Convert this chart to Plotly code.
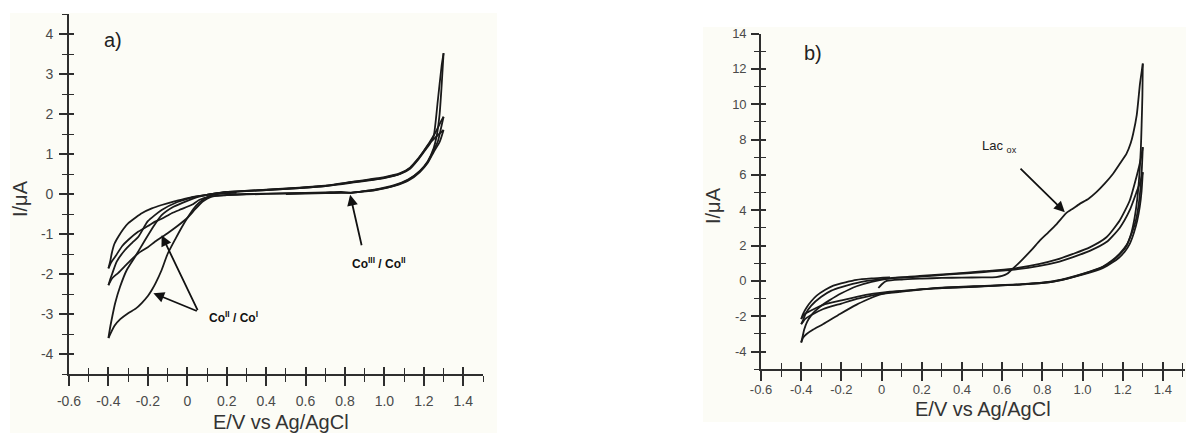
import plotly.graph_objects as go

# ---------------- panel a) : cyclic voltammogram, Co complex ----------------
# each sweep is one potential scan between the vertex potentials
a_sweep1_E = [0.25, 0.15, 0.1, 0.06, 0.03, 0.0, -0.03, -0.06, -0.1, -0.13, -0.16, -0.18, -0.2, -0.23, -0.26, -0.3, -0.34, -0.37, -0.4]
a_sweep1_I = [0.03, 0.0, -0.08, -0.22, -0.38, -0.6, -0.85, -1.12, -1.5, -1.9, -2.22, -2.4, -2.55, -2.72, -2.86, -2.98, -3.13, -3.3, -3.6]

a_sweep2_E = [-0.4, -0.39, -0.38, -0.366, -0.341, -0.307, -0.265, -0.22, -0.17, -0.13, -0.07, 0.0, 0.05, 0.1, 0.2, 0.3, 0.4, 0.57, 0.7, 0.83, 1.0, 1.08, 1.13, 1.17, 1.2, 1.23, 1.25, 1.27, 1.29, 1.3]
a_sweep2_I = [-3.6, -3.3, -3.05, -2.73, -2.32, -1.9, -1.57, -1.2, -0.8, -0.53, -0.32, -0.17, -0.08, -0.02, 0.04, 0.07, 0.1, 0.15, 0.2, 0.28, 0.4, 0.5, 0.63, 0.85, 1.05, 1.25, 1.45, 2.3, 3.2, 3.52]

a_sweep3_E = [1.3, 1.29, 1.28, 1.265, 1.25, 1.22, 1.18, 1.12, 1.05, 0.95, 0.88, 0.83, 0.78, 0.7, 0.5, 0.3, 0.2, 0.12, 0.08, 0.04, 0.0, -0.05, -0.1, -0.163, -0.2, -0.248, -0.3, -0.35, -0.38, -0.4]
a_sweep3_I = [3.52, 2.7, 2.0, 1.45, 1.15, 0.82, 0.58, 0.36, 0.22, 0.11, 0.06, 0.03, 0.05, 0.04, 0.02, 0.0, -0.02, -0.07, -0.18, -0.38, -0.6, -0.8, -0.98, -1.19, -1.33, -1.48, -1.72, -1.97, -2.1, -2.28]

a_sweep4_E = [-0.4, -0.39, -0.38, -0.358, -0.316, -0.28, -0.248, -0.2, -0.13, -0.05, 0.0, 0.05, 0.1, 0.2, 0.4, 0.57, 0.7, 0.83, 1.0, 1.08, 1.13, 1.17, 1.2, 1.23, 1.26, 1.28, 1.3]
a_sweep4_I = [-2.28, -2.12, -1.98, -1.69, -1.4, -1.22, -1.07, -0.68, -0.4, -0.2, -0.12, -0.06, -0.02, 0.05, 0.1, 0.15, 0.2, 0.29, 0.41, 0.51, 0.65, 0.87, 1.08, 1.3, 1.55, 1.75, 1.93]

a_sweep5_E = [1.3, 1.285, 1.27, 1.25, 1.22, 1.18, 1.12, 1.05, 0.95, 0.88, 0.83, 0.78, 0.7, 0.5, 0.3, 0.2, 0.12, 0.06, 0.023, -0.03, -0.079, -0.13, -0.163, -0.2, -0.248, -0.3, -0.33, -0.366, -0.385, -0.4]
a_sweep5_I = [1.93, 1.6, 1.3, 1.1, 0.8, 0.57, 0.35, 0.21, 0.1, 0.06, 0.03, 0.04, 0.03, 0.01, -0.01, -0.03, -0.06, -0.15, -0.27, -0.38, -0.48, -0.62, -0.69, -0.8, -0.94, -1.15, -1.3, -1.57, -1.7, -1.86]

a_sweep6_E = [-0.4, -0.39, -0.383, -0.37, -0.35, -0.325, -0.299, -0.26, -0.231, -0.18, -0.13, -0.07, -0.028, 0.03, 0.1, 0.2, 0.4, 0.57, 0.7, 0.83, 1.0, 1.08, 1.13, 1.17, 1.2, 1.23, 1.26, 1.3]
a_sweep6_I = [-1.86, -1.66, -1.48, -1.25, -1.07, -0.88, -0.73, -0.58, -0.48, -0.36, -0.275, -0.19, -0.14, -0.07, -0.02, 0.05, 0.11, 0.16, 0.21, 0.3, 0.42, 0.52, 0.66, 0.88, 1.07, 1.28, 1.42, 1.6]

a_sweep7_E = [1.3, 1.28, 1.25, 1.22, 1.18, 1.12, 1.05, 0.95, 0.85, 0.7, 0.5]
a_sweep7_I = [1.6, 1.3, 1.05, 0.78, 0.55, 0.33, 0.2, 0.09, 0.04, 0.02, 0.0]

# ---------------- panel b) : cyclic voltammogram with lactate ----------------
b_sweep1_E = [-0.016, 0.0, 0.025, 0.1, 0.2, 0.3, 0.4, 0.5, 0.57, 0.6, 0.625, 0.646, 0.675, 0.704, 0.75, 0.787, 0.83, 0.87, 0.92, 0.953, 0.986, 1.03, 1.069, 1.11, 1.152, 1.19, 1.219, 1.24, 1.252, 1.27, 1.286, 1.295, 1.3]
b_sweep1_I = [-0.4, -0.2, 0.0, 0.08, 0.13, 0.17, 0.19, 0.2, 0.22, 0.28, 0.4, 0.62, 0.92, 1.25, 1.8, 2.28, 2.75, 3.2, 3.85, 4.1, 4.36, 4.65, 5.02, 5.5, 6.06, 6.7, 7.2, 7.8, 8.33, 9.4, 11.16, 11.9, 12.3]

b_sweep2_E = [1.3, 1.298, 1.294, 1.29, 1.283, 1.272, 1.258, 1.24, 1.215, 1.185, 1.15, 1.1, 1.0, 0.92, 0.84, 0.7, 0.46, 0.257, 0.09, 0.0, -0.024, -0.07, -0.124, -0.207, -0.29, -0.34, -0.373, -0.39, -0.4]
b_sweep2_I = [12.3, 10.5, 8.8, 7.4, 6.0, 4.6, 3.5, 2.6, 1.9, 1.5, 1.15, 0.78, 0.38, 0.12, -0.07, -0.2, -0.33, -0.42, -0.62, -0.74, -0.83, -1.05, -1.34, -1.87, -2.44, -2.75, -3.0, -3.2, -3.48]

b_sweep3_E = [-0.4, -0.392, -0.385, -0.37, -0.35, -0.33, -0.3, -0.26, -0.2, -0.124, -0.05, 0.042, 0.19, 0.34, 0.51, 0.646, 0.787, 0.87, 0.953, 1.036, 1.119, 1.185, 1.235, 1.268, 1.29, 1.3]
b_sweep3_I = [-3.48, -3.1, -2.75, -2.3, -1.95, -1.7, -1.4, -1.1, -0.7, -0.3, -0.05, 0.15, 0.28, 0.4, 0.55, 0.68, 0.96, 1.2, 1.53, 1.9, 2.47, 3.42, 4.55, 5.87, 6.9, 7.57]

b_sweep4_E = [1.3, 1.295, 1.288, 1.278, 1.265, 1.245, 1.22, 1.185, 1.15, 1.1, 1.0, 0.92, 0.84, 0.7, 0.46, 0.3, 0.19, 0.1, 0.042, -0.04, -0.124, -0.2, -0.29, -0.356, -0.38, -0.39, -0.4]
b_sweep4_I = [7.57, 6.3, 5.2, 4.2, 3.4, 2.7, 2.05, 1.55, 1.18, 0.8, 0.4, 0.15, -0.04, -0.18, -0.3, -0.38, -0.48, -0.58, -0.64, -0.8, -1.02, -1.28, -1.59, -1.97, -2.15, -2.3, -2.44]

b_sweep5_E = [-0.4, -0.39, -0.38, -0.35, -0.3, -0.25, -0.2, -0.1, 0.04, 0.19, 0.34, 0.51, 0.646, 0.787, 0.87, 0.953, 1.036, 1.119, 1.185, 1.235, 1.268, 1.29, 1.3]
b_sweep5_I = [-2.44, -2.2, -1.9, -1.4, -0.9, -0.55, -0.35, -0.05, 0.15, 0.24, 0.37, 0.5, 0.62, 0.85, 1.05, 1.35, 1.7, 2.2, 3.0, 4.0, 5.0, 5.7, 6.15]

b_sweep6_E = [1.3, 1.294, 1.285, 1.272, 1.255, 1.235, 1.21, 1.18, 1.15, 1.1, 1.0, 0.92, 0.84, 0.7, 0.46, 0.3, 0.19, 0.1, 0.042, -0.04, -0.124, -0.2, -0.29, -0.356, -0.385, -0.4]
b_sweep6_I = [6.15, 5.1, 4.2, 3.4, 2.7, 2.1, 1.65, 1.3, 1.05, 0.72, 0.35, 0.12, -0.06, -0.2, -0.32, -0.4, -0.48, -0.56, -0.6, -0.72, -0.9, -1.1, -1.35, -1.7, -1.9, -2.15]

b_sweep7_E = [-0.4, -0.39, -0.373, -0.35, -0.323, -0.28, -0.24, -0.18, -0.124, -0.05, 0.042]
b_sweep7_I = [-2.15, -1.85, -1.5, -1.15, -0.83, -0.5, -0.27, -0.08, 0.06, 0.14, 0.2]

# ---------------- tick labels ----------------
x_tickvals = [-0.6, -0.4, -0.2, 0.0, 0.2, 0.4, 0.6, 0.8, 1.0, 1.2, 1.4]
x_ticktext = ["-0.6", "-0.4", "-0.2", "0", "0.2", "0.4", "0.6", "0.8", "1.0", "1.2", "1.4"]
a_y_tickvals = [-4, -3, -2, -1, 0, 1, 2, 3, 4]
a_y_ticktext = ["-4", "-3", "-2", "-1", "0", "1", "2", "3", "4"]
b_y_tickvals = [-4, -2, 0, 2, 4, 6, 8, 10, 12, 14]
b_y_ticktext = ["-4", "-2", "0", "2", "4", "6", "8", "10", "12", "14"]

a_sweeps = [(a_sweep1_E, a_sweep1_I), (a_sweep2_E, a_sweep2_I), (a_sweep3_E, a_sweep3_I),
            (a_sweep4_E, a_sweep4_I), (a_sweep5_E, a_sweep5_I), (a_sweep6_E, a_sweep6_I),
            (a_sweep7_E, a_sweep7_I)]
b_sweeps = [(b_sweep1_E, b_sweep1_I), (b_sweep2_E, b_sweep2_I), (b_sweep3_E, b_sweep3_I),
            (b_sweep4_E, b_sweep4_I), (b_sweep5_E, b_sweep5_I), (b_sweep6_E, b_sweep6_I),
            (b_sweep7_E, b_sweep7_I)]

W, H = 1186, 435
FONT = "Liberation Sans, Arial, sans-serif"
INK = "#1a1a1a"
AXIS = "#2e2e2e"
LABEL = "#4a4a4a"


def px_x(p):
    return p / W


def px_y(p):
    return 1 - p / H


fig = go.Figure()

curve_line = dict(color=INK, width=1.8, shape="spline", smoothing=0.55)
for E, I in a_sweeps:
    fig.add_trace(go.Scatter(x=E, y=I, mode="lines", line=curve_line,
                             xaxis="x", yaxis="y", showlegend=False, hoverinfo="skip"))
for E, I in b_sweeps:
    fig.add_trace(go.Scatter(x=E, y=I, mode="lines", line=curve_line,
                             xaxis="x2", yaxis="y2", showlegend=False, hoverinfo="skip"))
# placeholders so the tick-overlay axes get a subplot
fig.add_trace(go.Scatter(x=[None], y=[None], xaxis="x3", yaxis="y3", showlegend=False))
fig.add_trace(go.Scatter(x=[None], y=[None], xaxis="x4", yaxis="y4", showlegend=False))

a_xdom = [px_x(69), px_x(483)]
a_ydom = [px_y(374), px_y(14)]
b_xdom = [px_x(761), px_x(1185)]
b_ydom = [px_y(369.3), px_y(33.5)]
a_xrange = [-0.6, 1.5]
a_yrange = [-4.5, 4.5]
b_xrange = [-0.6, 1.51]
b_yrange = [-5, 14]


def x_axis(dom, rng, anchor, fsize, standoff):
    return dict(domain=dom, range=rng, anchor=anchor, automargin=False,
                showgrid=False, zeroline=False,
                showline=True, linecolor=AXIS, linewidth=1.6,
                tickmode="array", tickvals=x_tickvals, ticktext=x_ticktext,
                ticks="outside", ticklen=10, tickwidth=1.5, tickcolor=AXIS,
                ticklabelstandoff=standoff,
                minor=dict(ticks="outside", ticklen=6, tickwidth=1.4, tickcolor=AXIS,
                           dtick=0.1, tick0=-0.6, showgrid=False),
                tickfont=dict(family=FONT, size=fsize, color=LABEL))


def y_axis(dom, rng, anchor, vals, text, minor_dt, fsize, standoff):
    return dict(domain=dom, range=rng, anchor=anchor, automargin=False,
                showgrid=False, zeroline=False,
                showline=True, linecolor=AXIS, linewidth=1.6,
                tickmode="array", tickvals=vals, ticktext=text,
                ticks="outside", ticklen=8, tickwidth=1.5, tickcolor=AXIS,
                ticklabelstandoff=standoff,
                minor=dict(ticks="outside", ticklen=5, tickwidth=1.4, tickcolor=AXIS,
                           dtick=minor_dt, tick0=0, showgrid=False),
                tickfont=dict(family=FONT, size=fsize, color=LABEL))


def x_inner(over, rng, anchor):
    return dict(overlaying=over, range=rng, anchor=anchor, automargin=False,
                showgrid=False, zeroline=False,
                showline=False, showticklabels=False,
                tickmode="array", tickvals=x_tickvals,
                ticks="inside", ticklen=7, tickwidth=1.5, tickcolor=AXIS,
                minor=dict(ticks="inside", ticklen=6, tickwidth=1.4, tickcolor=AXIS,
                           dtick=0.1, tick0=-0.6, showgrid=False))


def y_inner(over, rng, anchor, vals, minor_dt):
    return dict(overlaying=over, range=rng, anchor=anchor, automargin=False,
                showgrid=False, zeroline=False,
                showline=False, showticklabels=False,
                tickmode="array", tickvals=vals,
                ticks="inside", ticklen=5, tickwidth=1.5, tickcolor=AXIS,
                minor=dict(ticks="inside", ticklen=5, tickwidth=1.4, tickcolor=AXIS,
                           dtick=minor_dt, tick0=0, showgrid=False))


fig.update_layout(
    width=W, height=H, margin=dict(l=0, r=0, t=0, b=0, autoexpand=False),
    paper_bgcolor="white", plot_bgcolor="rgba(0,0,0,0)",
    xaxis=x_axis(a_xdom, a_xrange, "y", 14, 3),
    yaxis=y_axis(a_ydom, a_yrange, "x", a_y_tickvals, a_y_ticktext, 0.5, 14, 3),
    xaxis2=x_axis(b_xdom, b_xrange, "y2", 13, -3),
    yaxis2=y_axis(b_ydom, b_yrange, "x2", b_y_tickvals, b_y_ticktext, 1, 13, 2),
    xaxis3=x_inner("x", a_xrange, "y3"),
    yaxis3=y_inner("y", a_yrange, "x3", a_y_tickvals, 0.5),
    xaxis4=x_inner("x2", b_xrange, "y4"),
    yaxis4=y_inner("y2", b_yrange, "x4", b_y_tickvals, 1),
)

# faint panel backgrounds
for x0, x1, y0, y1 in [(10, 497, 13, 433), (703, 1186, 27, 422)]:
    fig.add_shape(type="rect", xref="paper", yref="paper",
                  x0=px_x(x0), x1=px_x(x1), y0=px_y(y1), y1=px_y(y0),
                  fillcolor="#fcfcf6", line=dict(width=0), layer="below")

title_font = dict(family=FONT, size=20, color="#333333")
anns = [
    dict(text="E/V vs Ag/AgCl", x=px_x(281), y=px_y(422)),
    dict(text="E/V vs Ag/AgCl", x=px_x(983), y=px_y(409)),
    dict(text="I/\u03bcA", x=px_x(20), y=px_y(199), textangle=-90),
    dict(text="I/\u03bcA", x=px_x(713), y=px_y(206), textangle=-90),
]
for a in anns:
    fig.add_annotation(xref="paper", yref="paper", showarrow=False, font=title_font,
                       xanchor="center", yanchor="middle", **a)

# panel letters
fig.add_annotation(text="a)", xref="x", yref="y", x=-0.377, y=3.85, showarrow=False,
                   font=dict(family=FONT, size=20, color="#222"))
fig.add_annotation(text="b)", xref="x2", yref="y2", x=-0.34, y=12.9, showarrow=False,
                   font=dict(family=FONT, size=20, color="#222"))

arrow_style = dict(showarrow=True, arrowhead=2, arrowsize=1.2, arrowwidth=1.8,
                   arrowcolor="#111", text="", standoff=0, startstandoff=0)

# Co(II)/Co(I) reduction shoulders
co21_tail = (0.056, -2.94)
for tip in [(-0.13, -1.03), (-0.172, -2.48)]:
    fig.add_annotation(x=tip[0], y=tip[1], ax=co21_tail[0], ay=co21_tail[1],
                       xref="x", yref="y", axref="x", ayref="y", **arrow_style)
fig.add_annotation(text="<b>Co<sup>II</sup> / Co<sup>I</sup></b>", xref="x", yref="y",
                   x=0.235, y=-3.08, showarrow=False,
                   font=dict(family=FONT, size=12, color="#111"))

# Co(III)/Co(II)
fig.add_annotation(x=0.826, y=-0.02, ax=0.886, ay=-1.32,
                   xref="x", yref="y", axref="x", ayref="y", **arrow_style)
fig.add_annotation(text="<b>Co<sup>III</sup> / Co<sup>II</sup></b>", xref="x", yref="y",
                   x=0.97, y=-1.72, showarrow=False,
                   font=dict(family=FONT, size=12, color="#111"))

# lactate oxidation wave
fig.add_annotation(x=0.912, y=3.89, ax=0.684, ay=6.44,
                   xref="x2", yref="y2", axref="x2", ayref="y2", **arrow_style)
fig.add_annotation(text="Lac <sub>ox</sub>", xref="x2", yref="y2",
                   x=0.585, y=7.6, showarrow=False,
                   font=dict(family=FONT, size=13, color="#222"))

fig.write_html("out.html")
